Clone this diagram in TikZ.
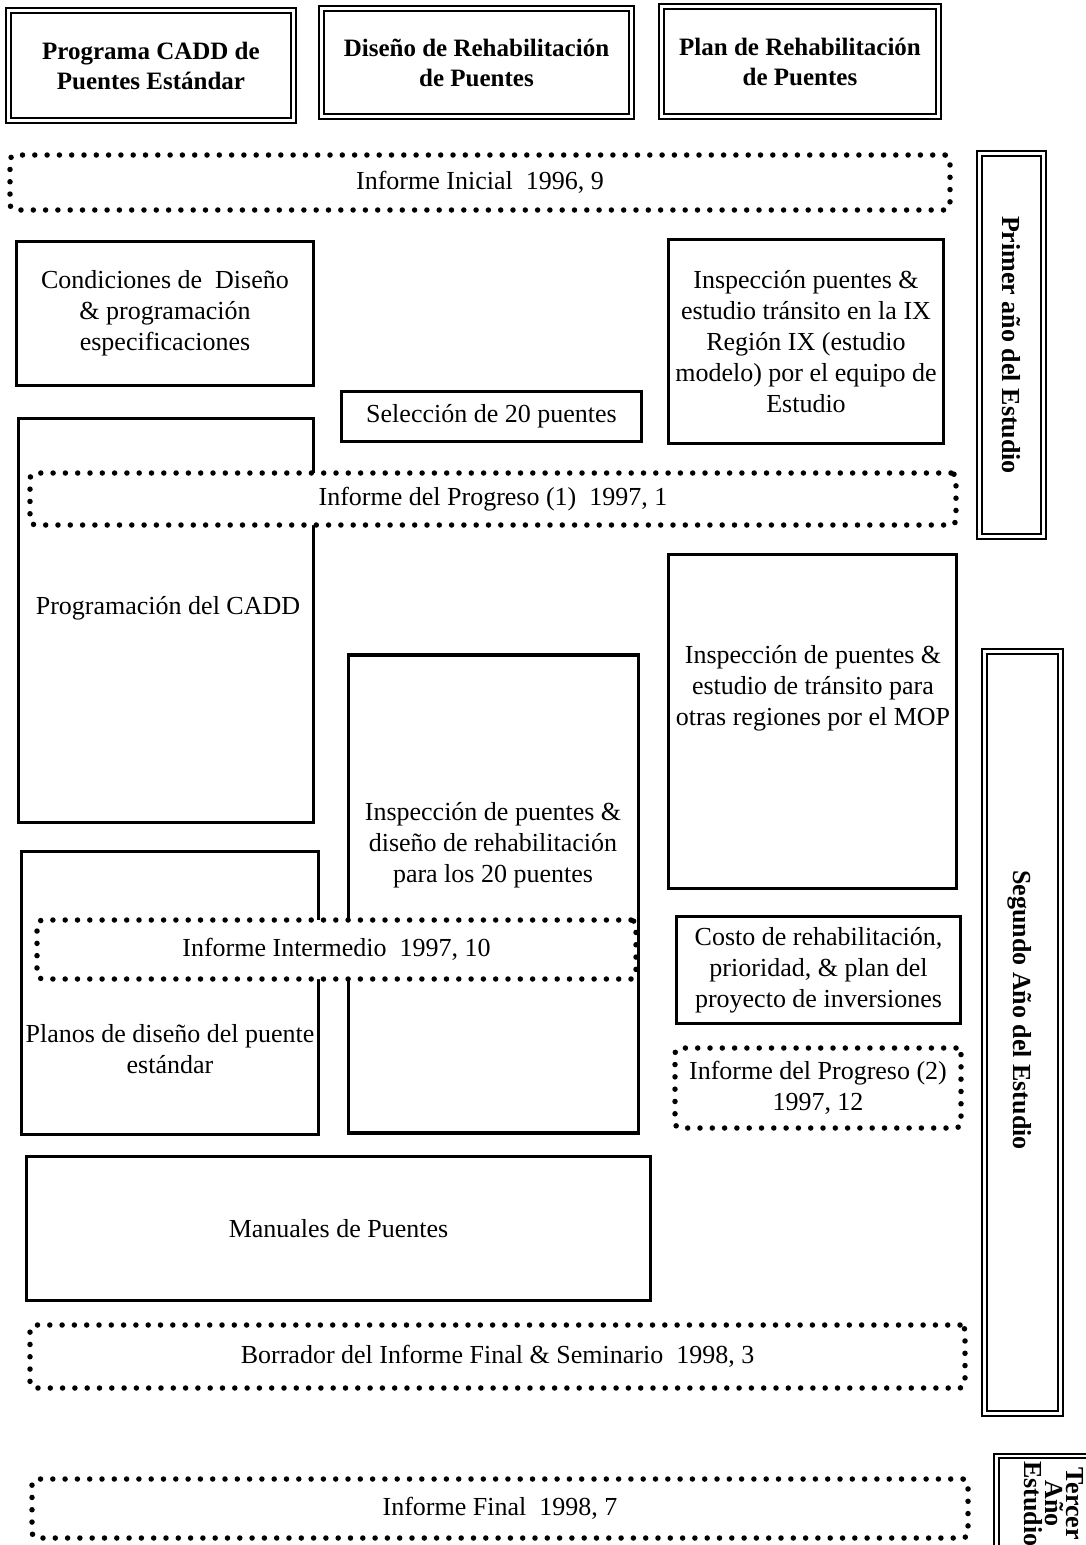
\documentclass[tikz,border=0pt]{standalone}
\usepackage{fontspec}
\setmainfont{Liberation Serif}
\usetikzlibrary{positioning, calc}
\tikzset{
  box/.style    = {draw, line width=3.8pt, inner sep=0pt, align=center,
                   font=\fontsize{26}{31}\selectfont},
  hdr/.style    = {draw, double, double distance=2.5pt, line width=2.2pt,
                   inner sep=0pt, align=center,
                   font=\fontsize{25}{30}\selectfont\bfseries},
  rep/.style    = {draw, fill=white, line width=5.5pt, line cap=round,
                   dash pattern=on 0pt off 12.3pt, rounded corners=5pt,
                   inner sep=0pt, align=center,
                   font=\fontsize{26}{31}\selectfont},
  txt/.style    = {inner sep=0pt, align=center, font=\fontsize{26}{31}\selectfont},
  yrlbl/.style  = {inner sep=0pt, align=center, font=\fontsize{26}{30}\selectfont\bfseries},
}

\begin{document}
\begin{tikzpicture}[x=1pt, y=-1pt]
  \useasboundingbox (0,0) rectangle (1086,1545);

  % column headers
  \foreach \n/\x/\y/\w/\h/\lbl in {a/151/65.5/285/110/{Programa CADD de\\Puentes Estándar},
                                   b/476.5/62.5/310/108/{Diseño de Rehabilitación\\de Puentes},
                                   c/800/61.5/277/110/{Plan de Rehabilitación\\de Puentes}} {
    \node[hdr, minimum width=\w, minimum height=\h] (hdr\n) at (\x, \y) {\lbl};
  }

  % work items
  \node[box, minimum width=297, minimum height=144] (cond) at (165, 313.5)
    {Condiciones de\ \ Diseño\\\& programación\\especificaciones};
  \node[box, minimum width=300, minimum height=50] (selec) at (491.5, 416.5)
    {Selección de 20 puentes};
  \node[box, minimum width=275, minimum height=204] (inspIX) at (806, 341.5)
    {Inspección puentes \&\\estudio tránsito en la IX\\Región IX (estudio\\modelo) por el equipo de\\Estudio};
  \node[box, minimum width=295, minimum height=404] (cadd) at (166, 620.5) {};
  \node[txt] (caddtxt) at (168, 608) {Programación del CADD};
  \node[box, minimum width=288, minimum height=334] (mop) at (812.5, 721.5) {};
  \node[txt] (moptxt) at (813, 688)
    {Inspección de puentes \&\\estudio de tránsito para\\otras regiones por el MOP};
  \node[box, minimum width=290, minimum height=478] (insp20) at (493.5, 894) {};
  \node[txt] (insp20txt) at (493, 845)
    {Inspección de puentes \&\\diseño de rehabilitación\\para los 20 puentes};
  \node[box, minimum width=297, minimum height=283] (planos) at (170, 993) {};
  \node[txt] (planostxt) at (170, 1049) {Planos de diseño del puente\\estándar};
  \node[box, minimum width=284, minimum height=107] (costo) at (818.5, 970)
    {Costo de rehabilitación,\\prioridad, \& plan del\\proyecto de inversiones};
  \node[box, minimum width=624, minimum height=144] (manual) at (338.5, 1228.5)
    {Manuales de Puentes};

  % reports
  \node[rep, minimum width=940, minimum height=55] (inicial) at (480, 182.5)
    {Informe Inicial\ \ 1996, 9};
  \node[rep, minimum width=926, minimum height=52] (prog1) at (493, 499)
    {Informe del Progreso (1)\ \ 1997, 1};
  \node[rep, minimum width=599, minimum height=59] (interm) at (336.5, 949.5)
    {Informe Intermedio\ \ 1997, 10};
  \node[rep, minimum width=286, minimum height=80] (prog2) at (818, 1088)
    {Informe del Progreso (2)\\1997, 12};
  \node[rep, minimum width=935, minimum height=63] (borr) at (497.5, 1356.5)
    {Borrador del Informe Final \& Seminario\ \ 1998, 3};
  \node[rep, minimum width=936, minimum height=59] (final) at (500, 1508.5)
    {Informe Final\ \ 1998, 7};

  % study years
  \node[hdr, yrlbl, rotate=-90, minimum width=383, minimum height=64] (primer) at (1011.5, 345)
    {Primer año del Estudio};
  \node[hdr, minimum width=76, minimum height=762] (segundo) at (1022.5, 1032.5) {};
  \node[yrlbl, rotate=-90] (segundotxt) at (1020, 1010) {Segundo Año del Estudio};
  \node[hdr, minimum width=102, minimum height=104] (tercer) at (1047.5, 1508) {};
  \node[yrlbl, rotate=-90, anchor=west, font=\fontsize{26}{21}\selectfont\bfseries] (tercertxt)
    at (1054, 1461) {Tercer\\Año\\Estudio};
\end{tikzpicture}
\end{document}
